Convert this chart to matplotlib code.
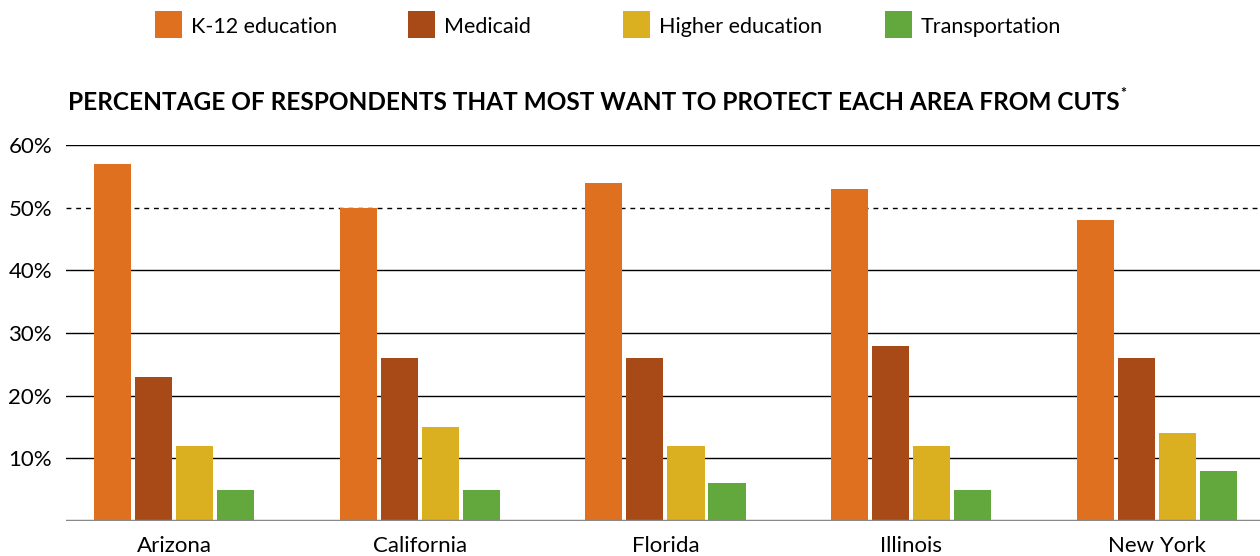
import matplotlib
matplotlib.use("Agg")
import matplotlib.pyplot as plt
import numpy as np
from matplotlib.patches import Rectangle

# Data
states = ["Arizona", "California", "Florida", "Illinois", "New York"]
areas = ["K-12 education", "Medicaid", "Higher education", "Transportation"]
k12 = [57, 50, 54, 53, 48]
medicaid = [23, 26, 26, 28, 26]
higher_ed = [12, 15, 12, 12, 14]
transport = [5, 5, 6, 5, 8]
yticks = [10, 20, 30, 40, 50, 60]

colors = ["#DF7020", "#A84A18", "#DBB020", "#62A83C"]
plt.rcParams["font.family"] = ["Lato", "DejaVu Sans"]

W, H = 1260, 556
fig = plt.figure(figsize=(12.6, 5.56), dpi=100)
ax = fig.add_axes([66 / W, 35 / H, 1 - 66 / W, (521 - 145) / H])

x = np.arange(len(states))
width = 0.151
step = 0.167
series = [k12, medicaid, higher_ed, transport]
for i, (vals, c) in enumerate(zip(series, colors)):
    ax.bar(x + (i - 1.5) * step, vals, width=width, color=c, zorder=3)

# gridlines
for t in yticks:
    if t == 50:
        ax.axhline(t, color="black", lw=1, ls=(0, (3.5, 3.5)), zorder=1)
    else:
        ax.axhline(t, color="black", lw=1, zorder=1)
ax.axhline(0, color="#888888", lw=2.5, zorder=4)

ax.set_xlim(-0.44, 4.42)
ax.set_ylim(0, 60)
ax.set_yticks(yticks)
ax.set_yticklabels([f"{t}%" for t in yticks], fontsize=16)
ax.set_xticks(x)
ax.set_xticklabels(states, fontsize=16)
ax.tick_params(axis="both", length=0)
ax.tick_params(axis="y", pad=10)
ax.tick_params(axis="x", pad=11)
for s in ax.spines.values():
    s.set_visible(False)

title = fig.text(68 / W, 1 - 103 / H,
                 "PERCENTAGE OF RESPONDENTS THAT MOST WANT TO PROTECT EACH AREA FROM CUTS",
                 fontsize=17.6, fontweight="bold", va="center", ha="left")
fig.canvas.draw()
bb = title.get_window_extent()
fig.text(bb.x1 / W + 1 / W, 1 - 93 / H, "*", fontsize=10, fontweight="bold", va="center", ha="left")

# legend drawn by hand at fixed positions
leg_x = [155, 408, 623, 885]
for lx, c, a in zip(leg_x, colors, areas):
    fig.patches.append(Rectangle((lx / W, 1 - 38 / H), 27 / W, 27 / H,
                                 transform=fig.transFigure, facecolor=c, edgecolor="none"))
    fig.text((lx + 36) / W, 1 - 27 / H, a, fontsize=15.5, va="center", ha="left")

fig.savefig("out.png", dpi=100)
